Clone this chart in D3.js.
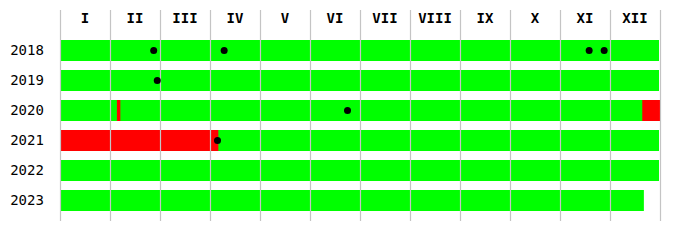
<!DOCTYPE html>
<html><head><meta charset="utf-8">
<script src="https://cdn.jsdelivr.net/npm/d3@7"></script>
<style>body{margin:0;background:#fff}svg{display:block}</style>
</head><body>
<script>
const years = ["2018","2019","2020","2021","2022","2023"];
const monthLabels = ["I","II","III","IV","V","VI","VII","VIII","IX","X","XI","XII"];
// bar extents (green) per year, as "MM-DD" start/end
const barStart = ["01-01","01-01","01-01","01-01","01-01","01-01"];
const barEnd   = ["12-31","12-31","12-31","12-31","12-31","12-21"];
// red segments: [year, start, end]
const redSegments = [["2020","02-05","02-06"],["2020","12-21","12-31"],["2021","01-01","04-05"]];
// black dots: [year, date]
const dots = [["2018","02-25"],["2018","04-09"],["2018","11-18"],["2018","11-27"],["2019","02-27"],["2020","06-23"],["2021","04-05"]];

const W=700,H=250;
const svg=d3.select("body").append("svg").attr("width",W).attr("height",H);
const x=d3.scaleLinear().domain([0,12]).range([60,660]);
const y=d3.scaleBand().domain(years).range([35.5,215.5]).paddingInner(0.3).paddingOuter(0.15);

function monthPos(yr,md,isEnd){
  const [m,d]=md.split("-").map(Number);
  const dim=new Date(+yr,m,0).getDate();
  return (m-1)+(isEnd? d : d-1)/dim;
}

// bars
svg.selectAll("rect.bar").data(years).join("rect")
  .attr("x",(d,i)=>x(monthPos(d,barStart[i],false)))
  .attr("width",(d,i)=>x(monthPos(d,barEnd[i],true))-x(monthPos(d,barStart[i],false))-(barEnd[i]==="12-31"?1:0))
  .attr("y",d=>y(d)).attr("height",y.bandwidth())
  .attr("fill","#00ff00");
svg.selectAll("rect.red").data(redSegments).join("rect")
  .attr("x",d=>x(monthPos(d[0],d[1],false)))
  .attr("width",d=>Math.max(2,x(monthPos(d[0],d[2],true))-x(monthPos(d[0],d[1],false))))
  .attr("y",d=>y(d[0])).attr("height",y.bandwidth())
  .attr("fill","#ff0000");

// grid lines on top
svg.selectAll("line.grid").data(d3.range(0,13)).join("line")
  .attr("x1",d=>Math.round(x(d))+0.5).attr("x2",d=>Math.round(x(d))+0.5)
  .attr("y1",10).attr("y2",221)
  .attr("stroke","#c4c4c4").attr("stroke-width",1.2);

// month labels
svg.selectAll("text.m").data(monthLabels).join("text")
  .attr("x",(d,i)=>x(i+0.5)).attr("y",23)
  .attr("text-anchor","middle")
  .attr("font-family","DejaVu Sans Mono").attr("font-size",14).attr("font-weight","bold")
  .attr("fill","#000").text(d=>d);

// year labels
svg.selectAll("text.y").data(years).join("text")
  .attr("x",27).attr("y",d=>y(d)+15)
  .attr("text-anchor","middle")
  .attr("font-family","DejaVu Sans Mono").attr("font-size",14)
  .attr("fill","#000").text(d=>d);

// dots
svg.selectAll("circle").data(dots).join("circle")
  .attr("cx",d=>x(monthPos(d[0],d[1],false)+0.5/30))
  .attr("cy",d=>y(d[0])+10.5).attr("r",3.5).attr("fill","#000");
</script>
</body></html>
